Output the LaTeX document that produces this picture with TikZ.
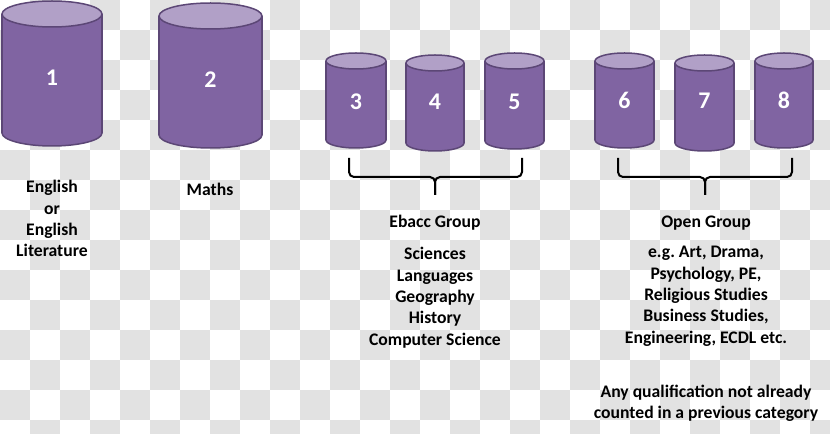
\documentclass[tikz,border=0pt]{standalone}
\usepackage{fontspec}
\setmainfont{Carlito}
\frenchspacing

\begin{document}
\begin{tikzpicture}[
  x=1bp, y=-1bp,
  every node/.style={font=\fontsize{17.7}{21.5}\selectfont\bfseries},
  txt/.style={anchor=base, inner sep=0pt},
  cylnum/.style={text=white, font=\fontsize{24}{26}\selectfont\bfseries},
  cylrim/.style={draw=cylline, line width=1.5bp},
  brace/.style={black, line width=2bp, rounded corners=5},
]

\definecolor{checkgray}{RGB}{226,226,226}
\definecolor{cylbody}{RGB}{128,100,162}
\definecolor{cyltop}{RGB}{177,160,199}
\definecolor{cylline}{RGB}{92,71,118}

\useasboundingbox (0,0) rectangle (830,434);

% ============================================================
% BACKGROUND (checker squares, 30 px)
% ============================================================
\begin{scope}
\clip (0,0) rectangle (830,434);
\fill[white] (0,0) rectangle (830,434);
\foreach \c in {0,...,27}{
  \foreach \r in {0,...,14}{
    \pgfmathtruncatemacro{\odd}{mod(\c+\r,2)}
    \ifnum\odd=1
      \fill[checkgray] (\c*30,\r*30) rectangle +(30,30);
    \fi
  }
}
\end{scope}

% ============================================================
% CYLINDERS
% number / left x / right x / top centre y / bottom centre y / y radius
% / number y
% ============================================================
\foreach \n/\xl/\xr/\yt/\yb/\ry/\yn in {
  1/2/102/14/133/13/78,
  2/159/262/16/135/13/80,
  3/326/386/61/140/8/102,
  4/406/464/63/143/8/102,
  5/485/544/61/141/8/102,
  6/595/654/61/140/8/100,
  7/675/734/63/143/8/101,
  8/755/813/61/140/8/100}{
  \pgfmathsetmacro{\xc}{(\xl+\xr)/2}
  \pgfmathsetmacro{\rx}{(\xr-\xl)/2}
  % bottom and body
  \filldraw[fill=cylbody, cylrim]
    (\xc,\yb) ellipse [x radius=\rx, y radius=\ry];
  \fill[cylbody] (\xl,\yt) rectangle (\xr,\yb);
  \draw[cylrim] (\xl,\yt) -- (\xl,\yb) (\xr,\yt) -- (\xr,\yb);
  % lid
  \filldraw[fill=cyltop, cylrim]
    (\xc,\yt) ellipse [x radius=\rx, y radius=\ry];
  % number
  \node[cylnum] (cyl\n) at (\xc,\yn) {\n};
}

% ============================================================
% BRACES
% ============================================================
\draw[brace] (349,158) -- (349,177) -- (435,177) -- (435,195);
\draw[brace] (522,158) -- (522,177) -- (435,177) -- (435,195);

\draw[brace] (618,158) -- (618,177) -- (705,177) -- (705,195);
\draw[brace] (792,158) -- (792,177) -- (705,177) -- (705,195);

% ============================================================
% LABELS
% ============================================================
\foreach \y/\t [count=\i] in {193/English, 214.3/or, 235.6/English,
                              256.9/Literature}{
  \node[txt] (eng\i) at (52,\y) {\t};
}

\node[txt] (maths) at (210,196) {Maths};

% Ebacc group
\node[txt] (ebacc) at (435,228) {Ebacc Group};
\foreach \y/\t [count=\i] in {260/Sciences, 281.3/Languages,
                              302.6/Geography, 323.9/History,
                              345.2/Computer Science}{
  \node[txt] (ebacc\i) at (435,\y) {\t};
}

% Open group
\node[txt] (open) at (706,228) {Open Group};
\foreach \y/\t [count=\i] in {258/{e.g. Art, Drama,},
                              279.3/{Psychology, PE,},
                              300.6/Religious Studies,
                              321.9/{Business Studies,},
                              343.2/{Engineering, ECDL etc.},
                              397/Any qualification not already,
                              418/counted in a previous category}{
  \node[txt] (open\i) at (706,\y) {\t};
}

\end{tikzpicture}
\end{document}
